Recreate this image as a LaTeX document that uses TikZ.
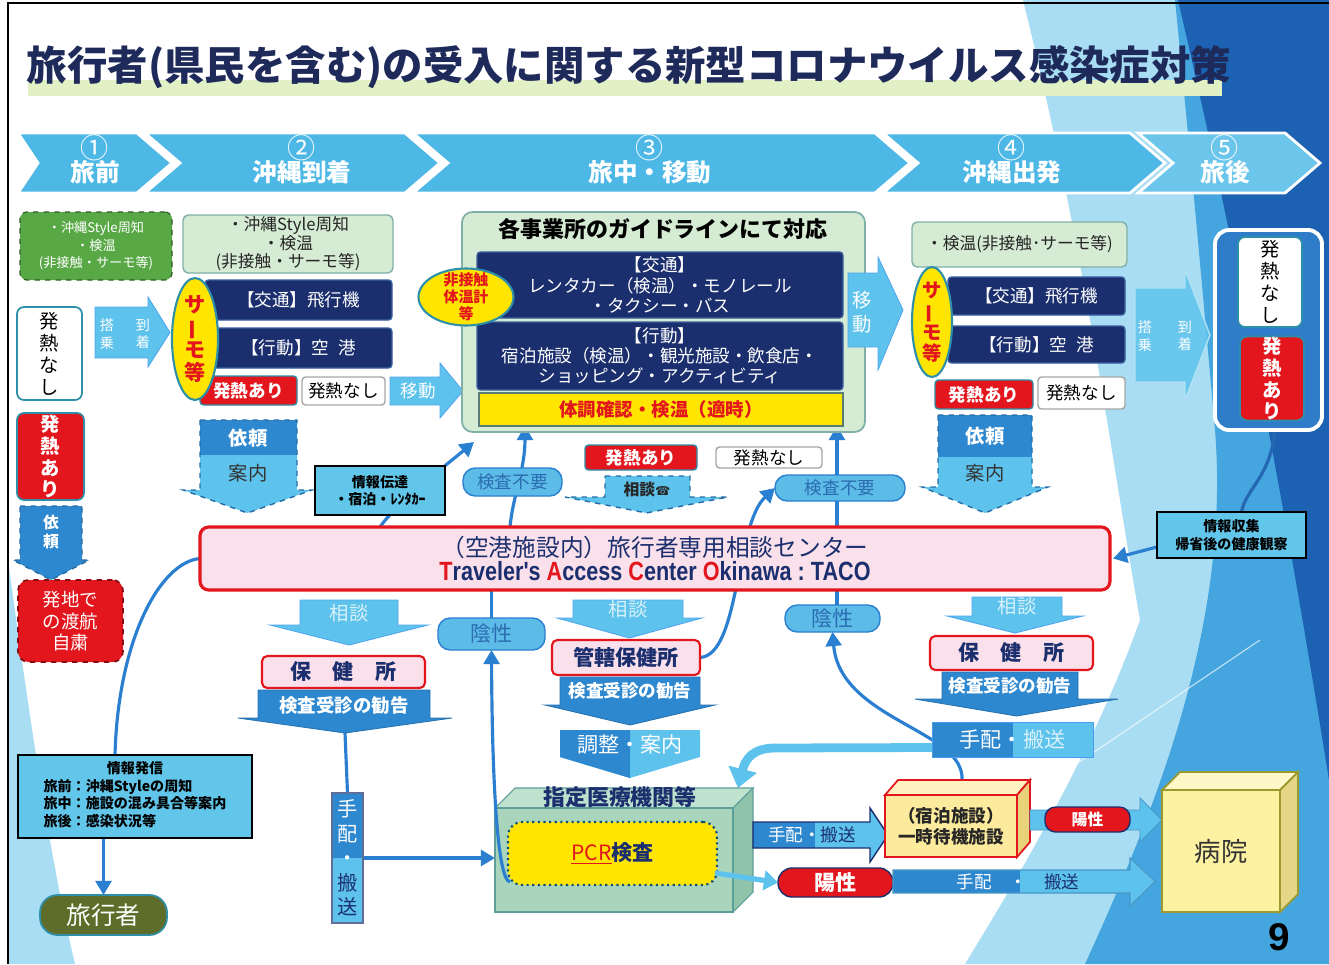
\documentclass[tikz,border=0pt]{standalone}
\usepackage{fontspec}
\usepackage{graphicx}
\setmainfont{Noto Sans CJK JP}
\newfontfamily\lib{Liberation Sans}
\newfontfamily\dejavu{DejaVu Sans}
\usetikzlibrary{shapes.geometric,arrows.meta,calc}
\pgfdeclarelayer{bglayer}
\pgfdeclarelayer{conns}
\pgfsetlayers{bglayer,conns,main}

\definecolor{navy}{HTML}{1B2F6E}
\definecolor{navyedge}{HTML}{3A5FA0}
\definecolor{chev}{HTML}{4DB8E6}
\definecolor{chevfive}{HTML}{6CC6EC}
\definecolor{lblue}{HTML}{5EC3EC}
\definecolor{mblue}{HTML}{2E88D0}
\definecolor{lineblue}{HTML}{2B7FD0}
\definecolor{myred}{HTML}{E2161C}
\definecolor{pinkf}{HTML}{F9E0EA}
\definecolor{lgreen}{HTML}{D6EBD3}
\definecolor{gborder}{HTML}{7FB0A8}
\definecolor{myyellow}{HTML}{FFE500}
\definecolor{olive}{HTML}{5E6E2A}
\definecolor{ggreen}{HTML}{58A845}
\definecolor{pillblue}{HTML}{5DBBE8}
\definecolor{pilltext}{HTML}{2B6CB0}
\definecolor{tealb}{HTML}{2E8FA8}
\definecolor{infoc}{HTML}{62C6EA}
\definecolor{lighttext}{HTML}{D8F1FB}
\definecolor{titlec}{HTML}{1E2A5A}
\definecolor{titlebar}{HTML}{E2F0C6}
\definecolor{bglight}{HTML}{A9DDF3}
\definecolor{bgmid}{HTML}{45A5DE}
\definecolor{bgdark}{HTML}{1D61B2}
\definecolor{afterfill}{HTML}{2F7DC8}
\definecolor{boxfront}{HTML}{A8D5BC}
\definecolor{boxtop}{HTML}{BEE2CD}
\definecolor{boxside}{HTML}{8FC4AA}
\definecolor{boxedge}{HTML}{5E9E98}
\definecolor{lyellow}{HTML}{FCEB9C}
\definecolor{lyellowtop}{HTML}{FDF2C0}
\definecolor{lyellowside}{HTML}{E8D27A}
\definecolor{hospfront}{HTML}{FDF1A2}
\definecolor{hosptop}{HTML}{FEF7C8}
\definecolor{hospside}{HTML}{E6D688}
\definecolor{hospedge}{HTML}{9A9A2E}

\newcommand\fsz[2]{\fontsize{#1}{#2}\selectfont}
\newcommand\bx[7][]{\node[#1, minimum width={(#5-#3)*0.02cm}, minimum height={(#6-#4)*0.02cm}] (#2) at ({(#3+#5)/2},{(#4+#6)/2}) {#7};}
\newcommand\darr[8]{\path[#1] (#2,#4) -- (#3,#4) -- (#3,#5) -- (#7,#5) -- ({(#6+#7)/2},#8) -- (#6,#5) -- (#2,#5) -- cycle;}
\newcommand\rarr[8]{\path[#1] (#2,#4) -- (#3,#4) -- (#3,#6) -- (#8,{(#4+#5)/2}) -- (#3,#7) -- (#3,#5) -- (#2,#5) -- cycle;}
\newcommand\chev[5]{\path[#1] (#2,133) -- (#3,133) -- (#4,163) -- (#3,193) -- (#2,193) -- ({#2+#5},163) -- cycle;}
\newcommand\vbar{\rotatebox[origin=c]{90}{ー}}

\tikzset{
 every node/.style={inner sep=0pt, outer sep=0pt},
 chevs/.style={fill=chev, draw=white, line width=1.6pt},
 chevnum/.style={text=white, font=\fsz{16}{17}},
 chevlab/.style={text=white, font=\bfseries\fsz{14}{16}},
 navybox/.style={rectangle, rounded corners=2pt, fill=navy, draw=navyedge, line width=0.8pt, text=white, align=center, font=\fsz{10}{11.5}},
 lgbox/.style={rectangle, rounded corners=3pt, fill=lgreen, draw=gborder, line width=0.8pt, text=black!85, align=center, font=\fsz{9.5}{10.5}},
 gbox/.style={rectangle, rounded corners=4pt, fill=ggreen, draw=ggreen!55!black, dashed, line width=0.7pt, text=white, align=center, font=\fsz{7.5}{10}},
 whitev/.style={rectangle, rounded corners=4pt, fill=white, draw=tealb, line width=1pt, align=center, text=black, font=\fsz{11}{12.5}},
 redv/.style={rectangle, rounded corners=4pt, fill=myred, draw=tealb, line width=1pt, align=center, text=white, font=\bfseries\fsz{11}{12.5}},
 redbox/.style={rectangle, rounded corners=2pt, fill=myred, draw=tealb, line width=0.8pt, text=white, font=\bfseries\fsz{10}{12}},
 whitebox/.style={rectangle, rounded corners=2pt, fill=white, draw=gray!70, line width=0.8pt, text=black, font=\fsz{10}{12}},
 thermo/.style={ellipse, fill=myyellow, draw=tealb, line width=1.2pt},
 thermotxt/.style={text=myred, align=center, font=\bfseries\fsz{12}{13}},
 pill/.style={rectangle, rounded corners=7pt, fill=pillblue, draw=lineblue, line width=0.8pt, text=pilltext, font=\fsz{10}{12}},
 redpill/.style={rectangle, rounded corners=8pt, fill=myred, draw=navy, line width=0.8pt, text=white, font=\bfseries\fsz{12}{14}},
 pinkbox/.style={rectangle, rounded corners=3pt, fill=pinkf, draw=myred, line width=1.2pt, text=navy, font=\bfseries\fsz{12}{14}},
 infobox/.style={rectangle, fill=infoc, draw=black, line width=0.9pt, text=black, align=center, font=\bfseries\fsz{8}{10}},
 tacobox/.style={rectangle, rounded corners=5pt, fill=pinkf, draw=myred, line width=1.8pt, align=center},
 blk/.style={fill=lblue, draw=lblue!85!blue, line width=0.5pt},
 blkd/.style={fill=mblue, draw=mblue!85!black, line width=0.5pt},
 dsh/.style={dashed, draw=mblue!80!black, line width=0.8pt},
 conn/.style={draw=lineblue, line width=1.8pt, -{Triangle[width=9pt,length=8pt]}},
 connline/.style={draw=lineblue, line width=1.8pt},
 fatlight/.style={draw=lblue, line width=5pt, -{Triangle[width=16pt,length=11pt]}},
 lightconn/.style={draw=lblue, line width=3pt, -{Triangle[width=11pt,length=8pt]}},
 txtw/.style={text=white},
}

\begin{document}
\begin{tikzpicture}[x=0.02cm,y=-0.02cm]
\useasboundingbox (0,0) rectangle (1329,964);
\begin{pgfonlayer}{bglayer}
\fill[white] (0,0) rectangle (1329,964);
\fill[bglight] (1023,0) .. controls (1085,250) and (1110,450) .. (1140,620) .. controls (1090,760) and (1010,890) .. (965,964) -- (1329,964) -- (1329,0) -- cycle;
\fill[bgmid] (1175,0) -- (1329,0) -- (1329,964) -- (1085,964) .. controls (1160,800) and (1230,620) .. (1215,430) .. controls (1200,260) and (1185,100) .. (1175,0) -- cycle;
\fill[bgdark] (1178,0) -- (1329,0) -- (1329,780) .. controls (1300,600) and (1255,330) .. (1178,0) -- cycle;
\fill[bglight] (8,560) .. controls (35,760) and (55,880) .. (75,964) -- (8,964) -- cycle;
\draw[white, line width=0.6pt, opacity=0.7] (780,964) -- (1260,640);
\draw[black, line width=1pt] (8,964) -- (8,3) -- (1329,3);
\end{pgfonlayer}

% title
\fill[titlebar] (28,80) rectangle (1222,96);
\node[font=\bfseries\fsz{23}{26}, text=titlec, anchor=west] (title) at (27,67) {旅行者(県民を含む)の受入に関する新型コロナウイルス感染症対策};

% stage chevrons
\chev{chevs}{18}{137}{172}{20}
\chev{chevs}{145}{405}{440}{35}
\chev{chevs}{413}{875}{910}{35}
\chev{chevs}{883}{1130}{1165}{35}
\chev{chevs, fill=chevfive}{1138}{1285}{1320}{35}
\node[chevnum] (n1) at (95,148) {①};
\node[chevlab] (s1) at (95,172) {旅前};
\node[chevnum] (n2) at (302,148) {②};
\node[chevlab] (s2) at (302,172) {沖縄到着};
\node[chevnum] (n3) at (650,148) {③};
\node[chevlab] (s3) at (650,172) {旅中・移動};
\node[chevnum] (n4) at (1012,148) {④};
\node[chevlab] (s4) at (1012,172) {沖縄出発};
\node[chevnum] (n5) at (1225,148) {⑤};
\node[chevlab] (s5) at (1225,172) {旅後};

% ---------- column 1 ----------
\bx[gbox]{pre1}{20}{212}{172}{280}{・沖縄Style周知\\・検温\\(非接触・サーモ等)}
\bx[whitev]{nofever1}{17}{307}{82}{400}{発\\熱\\な\\し}
\rarr{blk}{95}{148}{307}{358}{297}{367}{170}
\node[txtw, font=\fsz{8}{10}, align=center] (board1) at (107,334) {搭\\乗};
\node[txtw, font=\fsz{8}{10}, align=center] (arrive1) at (143,334) {到\\着};
\bx[redv]{fever1}{17}{413}{84}{500}{発\\熱\\あ\\り}
\darr{blkd, dsh}{20}{82}{506}{560}{13}{89}{580}
\node[txtw, font=\bfseries\fsz{9}{11}, align=center] (req1) at (51,532) {依\\頼};
\bx[redv, dashed, draw=myred!60!black, rounded corners=6pt, font=\fsz{10.5}{12.5}]{selfres}{18}{580}{123}{662}{発地で\\の渡航\\自粛}
\bx[infobox]{info}{18}{755}{252}{838}{\begin{tabular}{@{}l@{}}\multicolumn{1}{@{}c@{}}{情報発信}\\旅前：沖縄Styleの周知\\旅中：施設の混み具合等案内\\旅後：感染状況等\end{tabular}}
\bx[rectangle, rounded corners=10pt, fill=olive, draw=tealb, line width=1pt, text=white, font=\fsz{14}{16}]{traveler}{40}{895}{167}{935}{旅行者}

% ---------- column 2 ----------
\bx[lgbox]{pre2}{183}{215}{393}{273}{・沖縄Style周知\\・検温\\(非接触・サーモ等)}
\bx[navybox]{air2}{205}{280}{392}{320}{【交通】飛行機}
\bx[navybox]{port2}{205}{328}{392}{368}{【行動】空\hspace{0.5em}港}
\bx[redbox]{fever2}{200}{376}{297}{405}{発熱あり}
\bx[whitebox]{nofever2}{302}{377}{385}{405}{発熱なし}
\node[thermo, minimum width=0.92cm, minimum height=2.44cm, label={[thermotxt]center:{サ\\\vbar\\モ\\等}}] (th2) at (195,339) {};
\rarr{blk}{390}{440}{377}{405}{363}{418}{463}
\node[txtw, font=\fsz{10}{12}] (move2) at (418,391) {移動};
\darr{fill=lblue}{200}{297}{420}{490}{183}{312}{513}
\fill[mblue] (200,420) rectangle (297,455);
\darr{dsh}{200}{297}{420}{490}{183}{312}{513}
\node[txtw, font=\bfseries\fsz{11}{13}] (req2) at (248,438) {依頼};
\node[text=black!80, font=\fsz{11}{13}] (annai2) at (248,473) {案内};
\bx[infobox]{relay}{315}{466}{445}{515}{情報伝達\\・宿泊・ﾚﾝﾀｶｰ}

% ---------- column 3 ----------
\bx[rectangle, rounded corners=6pt, fill=lgreen, draw=gborder, line width=1pt]{guide}{462}{212}{865}{432}{}
\node[font=\bfseries\fsz{12.5}{14}, text=black] (guidetitle) at (663,229) {各事業所のガイドラインにて対応};
\bx[navybox]{traffic3}{477}{252}{843}{318}{【交通】\\レンタカー（検温）・モノレール\\・タクシー・バス}
\bx[navybox]{action3}{477}{322}{843}{390}{【行動】\\宿泊施設（検温）・観光施設・飲食店・\\ショッピング・アクティビティ}
\bx[rectangle, fill=myyellow, draw=gborder!70!black, line width=0.8pt, text=myred, font=\bfseries\fsz{10.5}{12}]{check3}{479}{393}{843}{426}{体調確認・検温（適時）}
\node[thermo, minimum width=1.9cm, minimum height=1.14cm, label={[thermotxt, font=\bfseries\fsz{8.5}{9.5}]center:{非接触\\体温計\\等}}] (nc) at (466,297) {};
\rarr{blk}{848}{878}{273}{347}{257}{370}{903}
\node[txtw, font=\fsz{11}{14}, align=center] (move3) at (862,312) {移\\動};
\bx[redbox]{fever3}{585}{445}{697}{470}{発熱あり}
\bx[whitebox]{nofever3}{716}{447}{822}{468}{発熱なし}
\darr{fill=lblue}{605}{690}{476}{497}{565}{728}{513}
\darr{dsh}{605}{690}{476}{497}{565}{728}{513}
\node[font=\bfseries\fsz{9}{11}, text=black!85] (consult3) at (647,489) {相談{\dejavu\fsz{7}{8}☎}};
\bx[pill]{nt1}{463}{468}{562}{496}{検査不要}
\bx[pill]{nt2}{775}{475}{905}{501}{検査不要}

% ---------- TACO ----------
\bx[tacobox]{taco}{200}{527}{1110}{590}{{\fsz{13.5}{15}\color{navy}（空港施設内）旅行者専用相談センター}\\[0pt]{\lib\bfseries\fsz{15}{16}\scalebox{0.82}[1]{\color{navy}{\color{myred}T}raveler's {\color{myred}A}ccess {\color{myred}C}enter {\color{myred}O}kinawa\ :\ TACO}}}

% ---------- lower left ----------
\darr{blk}{300}{398}{600}{625}{270}{428}{645}
\node[text=lighttext, font=\fsz{11}{13}] (soudan1) at (349,613) {相談};
\bx[pinkbox]{hc1}{262}{656}{425}{688}{保\hspace{1em}健\hspace{1em}所}
\darr{blkd}{258}{430}{690}{718}{238}{452}{733}
\node[txtw, font=\bfseries\fsz{10.5}{12}] (adv1) at (344,705) {検査受診の勧告};
\coordinate (adv1tip) at (345,733);
\bx[rectangle, fill=lblue, draw=navy!70, line width=0.6pt, align=center, text=navy, font=\fsz{11.5}{14}, path picture={\fill[mblue] (path picture bounding box.north west) rectangle (path picture bounding box.east);}]{tehai1}{332}{793}{363}{923}{\textcolor{white}{手}\\\textcolor{white}{配}\\\textcolor{white}{・}\\搬\\送}
\bx[pill, font=\fsz{12}{14}]{neg1}{438}{618}{545}{650}{陰性}

% ---------- lower center ----------
\darr{blk}{573}{683}{600}{618}{557}{702}{638}
\node[text=lighttext, font=\fsz{11}{13}] (soudan2) at (628,609) {相談};
\bx[pinkbox]{kankatsu}{552}{640}{700}{675}{管轄保健所}
\darr{blkd}{560}{700}{677}{705}{545}{715}{725}
\node[txtw, font=\bfseries\fsz{10}{12}] (adv2) at (630,691) {検査受診の勧告};
\path[fill=lblue] (560,730) -- (700,730) -- (700,757) -- (630,778) -- (560,757) -- cycle;
\path[fill=mblue] (560,730) -- (630,730) -- (630,778) -- (560,757) -- cycle;
\node[txtw, font=\fsz{12}{14}] (adjust) at (630,745) {調整・案内};

\path[fill=boxtop, draw=boxedge, line width=0.6pt] (495,808) -- (515,788) -- (753,788) -- (733,808) -- cycle;
\path[fill=boxside, draw=boxedge, line width=0.6pt] (733,808) -- (753,788) -- (753,892) -- (733,912) -- cycle;
\bx[rectangle, fill=boxfront, draw=boxedge, line width=0.6pt]{medbox}{495}{808}{733}{912}{}
\node[font=\bfseries\fsz{12.5}{14}, text=navy] (medtitle) at (620,797) {指定医療機関等};
\bx[rectangle, rounded corners=8pt, fill=myyellow, draw=navy!60!teal, dotted, line width=1.2pt, font=\bfseries\fsz{12}{14}]{pcr}{508}{822}{717}{885}{{\mdseries\color{myred}\underline{PCR}}\textcolor{navy}{検査}}

\rarr{fill=lblue}{753}{870}{822}{848}{808}{862}{888}
\fill[mblue] (753,822) rectangle (815,848);
\rarr{draw=navy, line width=0.8pt}{753}{870}{822}{848}{808}{862}{888}
\node[font=\fsz{10}{12}] (tehai3) at (812,835) {\textcolor{white}{手配・}\textcolor{navy}{搬送}};
\bx[redpill]{pos1}{778}{868}{893}{897}{陽性}

\rarr{fill=lblue}{893}{1130}{870}{893}{858}{906}{1155}
\fill[mblue] (893,870) rectangle (1020,893);
\rarr{draw=lblue!70!navy, line width=0.6pt}{893}{1130}{870}{893}{858}{906}{1155}
\node[font=\fsz{10}{12}] (tehai4) at (1018,882) {\textcolor{white}{手配\quad ・}\quad\textcolor{navy}{搬送}};

% ---------- column 4 ----------
\bx[lgbox]{pre4}{912}{222}{1127}{267}{・検温(非接触･サーモ等)}
\bx[navybox]{air4}{948}{277}{1125}{315}{【交通】飛行機}
\bx[navybox]{port4}{948}{326}{1125}{363}{【行動】空\hspace{0.5em}港}
\node[thermo, minimum width=0.8cm, minimum height=2.2cm, label={[thermotxt, font=\bfseries\fsz{11}{12}]center:{サ\\\vbar\\モ\\等}}] (th4) at (932,322) {};
\bx[redbox]{fever4}{935}{380}{1033}{409}{発熱あり}
\bx[whitebox]{nofever4}{1038}{377}{1125}{409}{発熱なし}
\darr{fill=lblue}{938}{1032}{415}{487}{922}{1048}{513}
\fill[mblue] (938,415) rectangle (1032,457);
\darr{dsh}{938}{1032}{415}{487}{922}{1048}{513}
\node[txtw, font=\bfseries\fsz{11}{13}] (req4) at (985,436) {依頼};
\node[text=black!80, font=\fsz{11}{13}] (annai4) at (985,473) {案内};
\rarr{fill=lblue, fill opacity=0.85, draw=white!50!lblue, line width=0.8pt}{1135}{1185}{288}{382}{270}{400}{1210}
\node[txtw, font=\fsz{8}{10}, align=center] (board4) at (1145,336) {搭\\乗};
\node[txtw, font=\fsz{8}{10}, align=center] (arrive4) at (1185,336) {到\\着};

\bx[rectangle, rounded corners=8pt, fill=afterfill, draw=white, line width=2.2pt]{after}{1215}{230}{1322}{430}{}
\bx[whitev]{nofever5}{1238}{237}{1302}{327}{発\\熱\\な\\し}
\bx[redv]{fever5}{1240}{337}{1304}{420}{発\\熱\\あ\\り}

\darr{blk}{972}{1062}{597}{616}{947}{1083}{633}
\node[text=lighttext, font=\fsz{11}{13}] (soudan4) at (1017,606) {相談};
\bx[pinkbox]{hc2}{930}{636}{1093}{670}{保\hspace{1em}健\hspace{1em}所}
\darr{blkd}{942}{1078}{672}{699}{915}{1118}{716}
\node[txtw, font=\bfseries\fsz{10}{12}] (adv4) at (1010,686) {検査受診の勧告};
\bx[rectangle, fill=lblue, draw=lblue!80!blue, line width=0.5pt, font=\fsz{12}{14}, path picture={\fill[mblue] (path picture bounding box.north west) rectangle (path picture bounding box.south);}]{tehai2}{932}{722}{1093}{757}{\textcolor{white}{手配・}\textcolor{lighttext}{搬送}}
\bx[pill, font=\fsz{12}{14}]{neg2}{785}{605}{880}{632}{陰性}

\path[fill=lyellowtop, draw=myred, line width=1pt] (885,795) -- (898,780) -- (1030,780) -- (1017,795) -- cycle;
\path[fill=lyellowside, draw=myred, line width=1pt] (1017,795) -- (1030,780) -- (1030,842) -- (1017,857) -- cycle;
\bx[rectangle, fill=lyellow, draw=myred, line width=1.2pt, align=center, font=\bfseries\fsz{10}{12}, text=black!85]{shuku}{885}{795}{1017}{857}{（宿泊施設）\\一時待機施設}

\rarr{fill=lblue, draw=lblue!70!navy, line width=0.5pt}{1030}{1140}{810}{830}{798}{842}{1162}
\bx[redpill, font=\bfseries\fsz{9}{11}, rounded corners=6pt]{pos2}{1045}{807}{1130}{832}{陽性}

\path[fill=hosptop, draw=hospedge, line width=1pt] (1162,790) -- (1180,772) -- (1298,772) -- (1280,790) -- cycle;
\path[fill=hospside, draw=hospedge, line width=1pt] (1280,790) -- (1298,772) -- (1298,894) -- (1280,912) -- cycle;
\bx[rectangle, fill=hospfront, draw=hospedge, line width=1pt, font=\fsz{15}{17}, text=black!80]{hospital}{1162}{790}{1280}{912}{病院}

\bx[infobox]{collect}{1157}{512}{1306}{558}{情報収集\\帰省後の健康観察}
\node[font=\lib\bfseries\fsz{22}{24}] (pageno) at (1279,937) {9};

% ---------- connectors on top ----------
\draw[conn] ($(pcr.south west)+(2,-3)$) .. controls (496,880) and (492,760) .. (neg1.south);
\draw[lightconn] ($(pcr.south east)+(-2,-12)$) -- (pos1.west);

% ---------- connectors behind ----------
\begin{pgfonlayer}{conns}
\draw[conn] (info.south -| traveler.north) -- (traveler.north);
\draw[connline] (taco.west) .. controls (160,562) and (118,640) .. ($(info.north west)+(97,0)$);
\draw[conn] ($(taco.north west)+(180,0)$) .. controls (395,505) and (440,470) .. ($(guide.south west)+(12,10)$);
\draw[conn] ($(taco.north west)+(310,0)$) .. controls (513,495) and (525,470) .. ($(check3.south west)+(46,0)$);
\draw[conn] ($(neg2.north west)+(52,0)$) -- ($(check3.south west)+(358,0)$);
\draw[conn] (kankatsu.east) .. controls (740,655) and (735,525) .. (nt2.west);
\draw[connline] (neg1.north) -- (neg1.north |- taco.south);
\draw[connline] (adv1tip) -- (tehai1.north);
\draw[conn] (tehai1.east) -- (tehai1.east -| medbox.west);
\draw[fatlight] ($(tehai2.west)+(0,8)$) -- (775,748) .. controls (752,748) and (745,760) .. ($(medbox.north east)+(5,-20)$);
\draw[conn] ($(shuku.north)+(11,-15)$) .. controls (965,730) and (840,720) .. (neg2.south);
\draw[conn] ($(collect.west)+(0,12)$) -- ($(taco.east)+(3,0)$);
\draw[connline, draw=lineblue!70!navy] ($(after.south)+(6,0)$) .. controls (1272,475) and (1245,490) .. ($(collect.north)+(10,0)$);
\end{pgfonlayer}
\end{tikzpicture}
\end{document}
